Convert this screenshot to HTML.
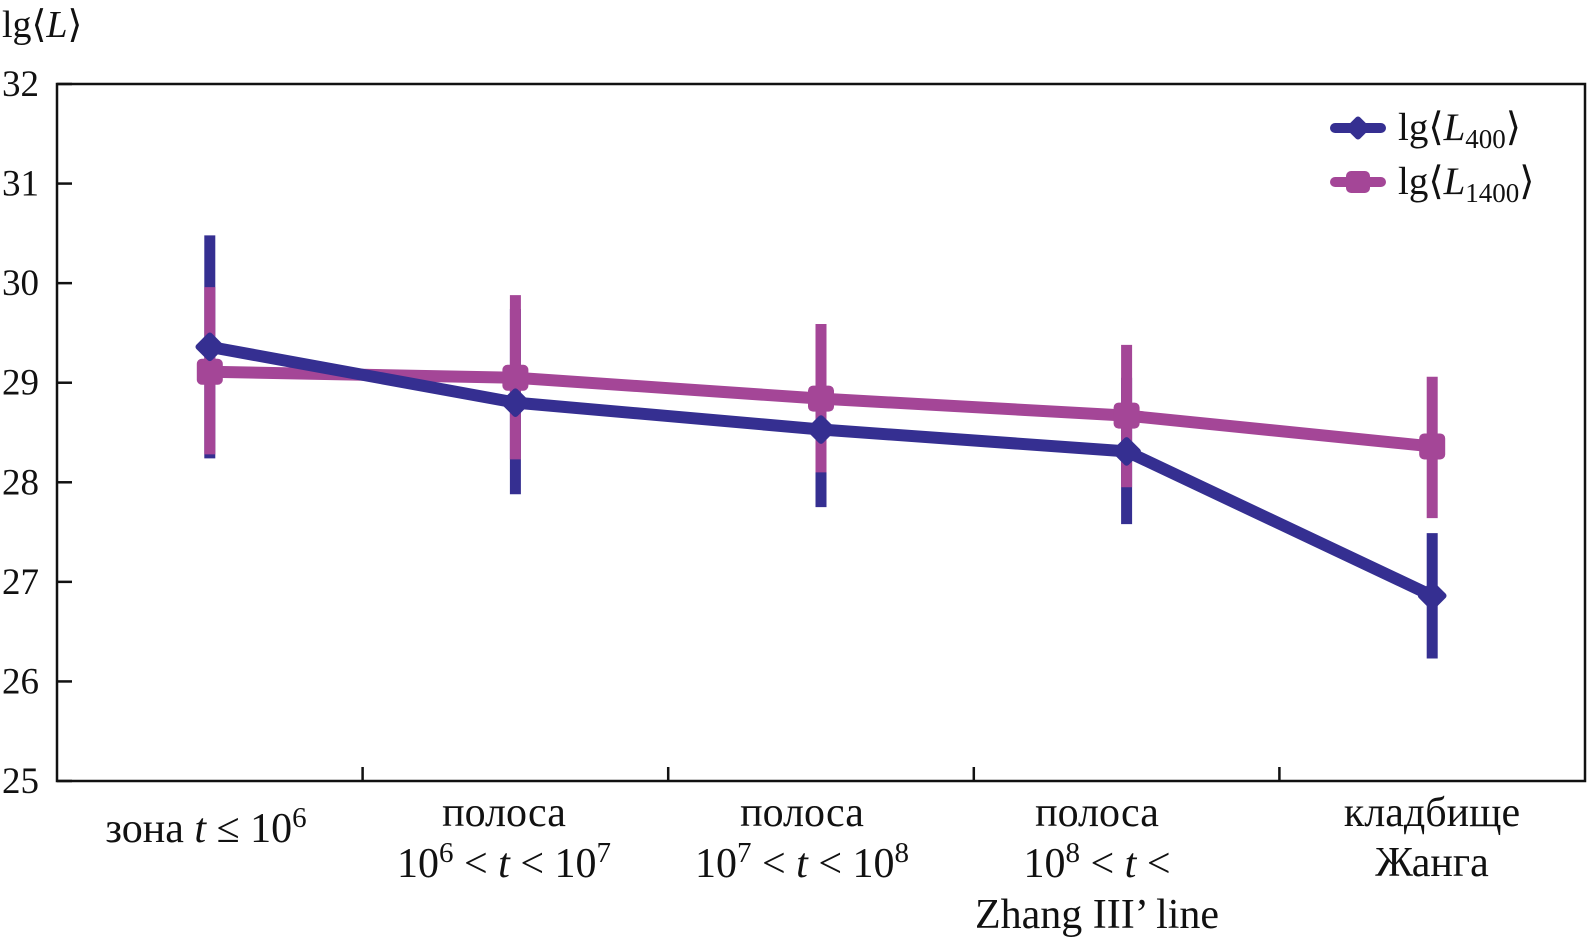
<!DOCTYPE html>
<html><head><meta charset="utf-8"><style>
html,body{margin:0;padding:0;background:#fff;width:1587px;height:939px;overflow:hidden;position:relative}
svg{display:block;position:absolute;left:0;top:0}
svg text{font-family:"Liberation Serif",serif;fill:#111}
</style></head><body>
<svg id="c" width="1587" height="939" xmlns="http://www.w3.org/2000/svg"></svg>
<script>
const categories=["zone","band1","band2","band3","cemetery"];
const blueVals=[29.36,28.80,28.53,28.31,26.86];
const blueLo=[28.24,27.88,27.75,27.58,26.23];
const blueHi=[30.48,29.74,29.30,29.05,27.49];
const pinkVals=[29.11,29.05,28.84,28.67,28.36];
const pinkLo=[28.28,28.23,28.10,27.95,27.64];
const pinkHi=[29.96,29.88,29.59,29.38,29.06];
const yTicks=[25,26,27,28,29,30,31,32];

const NS="http://www.w3.org/2000/svg";
const svg=document.getElementById('c');
const X0=57,X1=1585,Y0=781,Y1=84;
const y=v=>Y0-(v-25)/(32-25)*(Y0-Y1);
const x=i=>X0+(i+0.5)*(X1-X0)/categories.length;
function mk(tag,attrs,parent){const e=document.createElementNS(NS,tag);for(const k in attrs)e.setAttribute(k,attrs[k]);(parent||svg).appendChild(e);return e;}

const axes=mk('g',{});


mk('rect',{x:X0,y:Y1,width:X1-X0,height:Y0-Y1,stroke:'#111','stroke-width':2.5,fill:'none'},axes);
yTicks.forEach(t=>{
  const l=mk('line',{x1:X0,x2:X0+15,y1:y(t),y2:y(t),stroke:'#111','stroke-width':2.5},axes);
  
  
  const tx=mk('text',{x:2,y:y(t)+12,'font-size':37},axes);
  tx.textContent=t;
  
  
});
for(let i=1;i<categories.length;i++){
  const xx=X0+i*(X1-X0)/categories.length;
  const l=mk('line',{x1:xx,x2:xx,y1:Y0,y2:Y0-14,stroke:'#111','stroke-width':2.5},axes);
  
  
}

function series(vals,lo,hi,color,name){
  const g=mk('g',{});
  
  
  vals.forEach((v,i)=>{
    const b=mk('line',{x1:x(i),x2:x(i),y1:y(lo[i]),y2:y(hi[i]),stroke:color,'stroke-width':11},g);
    
    
  });
  return g;
}
function line(vals,color,name,marker){
  const g=mk('g',{});
  
  
  mk('polyline',{points:vals.map((v,i)=>x(i)+','+y(v)).join(' '),stroke:color,'stroke-width':12,fill:'none','stroke-linejoin':'round'},g);
  vals.forEach((v,i)=>{
    let m;
    if(marker==='d') m=mk('rect',{x:x(i)-11,y:y(v)-11,width:22,height:22,rx:3,fill:color,transform:`rotate(45 ${x(i)} ${y(v)})`},g);
    else m=mk('rect',{x:x(i)-13,y:y(v)-13,width:26,height:26,rx:5,fill:color},g);
    
    
  });
}
series(blueVals,blueLo,blueHi,'#352f91','blue-error-bars');
series(pinkVals,pinkLo,pinkHi,'#a44697','pink-error-bars');
line(pinkVals,'#a44697','series-l1400','s');
line(blueVals,'#352f91','series-l400','d');
</script>
<svg width="1587" height="939">
<text x="2" y="37" font-size="38">lg⟨<tspan font-style="italic">L</tspan>⟩</text>
<g>
 <g>
  <line x1="1335" y1="128" x2="1381" y2="128" stroke="#352f91" stroke-width="10" stroke-linecap="round"/>
  <rect x="1349" y="119" width="18" height="18" rx="3" fill="#352f91" transform="rotate(45 1358 128)"/>
  <text x="1398" y="140" font-size="39">lg⟨<tspan font-style="italic">L</tspan><tspan font-size="27" dy="8">400</tspan><tspan dy="-8">⟩</tspan></text>
 </g>
 <g>
  <line x1="1335" y1="182" x2="1381" y2="182" stroke="#a44697" stroke-width="10" stroke-linecap="round"/>
  <rect x="1346" y="171" width="24" height="22" rx="5" fill="#a44697"/>
  <text x="1398" y="194" font-size="39">lg⟨<tspan font-style="italic">L</tspan><tspan font-size="27" dy="8">1400</tspan><tspan dy="-8">⟩</tspan></text>
 </g>
</g>
<g font-size="42" text-anchor="middle">
 <text x="206" y="842">зона <tspan font-style="italic">t</tspan> ≤ 10<tspan font-size="29" dy="-15">6</tspan></text>
 <text x="504" y="826">полоса</text>
 <text x="504" y="877">10<tspan font-size="29" dy="-15">6</tspan><tspan dy="15"> &lt; </tspan><tspan font-style="italic">t</tspan> &lt; 10<tspan font-size="29" dy="-15">7</tspan></text>
 <text x="802" y="826">полоса</text>
 <text x="802" y="877">10<tspan font-size="29" dy="-15">7</tspan><tspan dy="15"> &lt; </tspan><tspan font-style="italic">t</tspan> &lt; 10<tspan font-size="29" dy="-15">8</tspan></text>
 <text x="1097" y="826">полоса</text>
 <text x="1097" y="877">10<tspan font-size="29" dy="-15">8</tspan><tspan dy="15"> &lt; </tspan><tspan font-style="italic">t</tspan> &lt;</text>
 <text x="1097" y="928">Zhang III’ line</text>
 <text x="1432" y="826">кладбище</text>
 <text x="1432" y="876">Жанга</text>
</g>
</svg>
</body></html>
